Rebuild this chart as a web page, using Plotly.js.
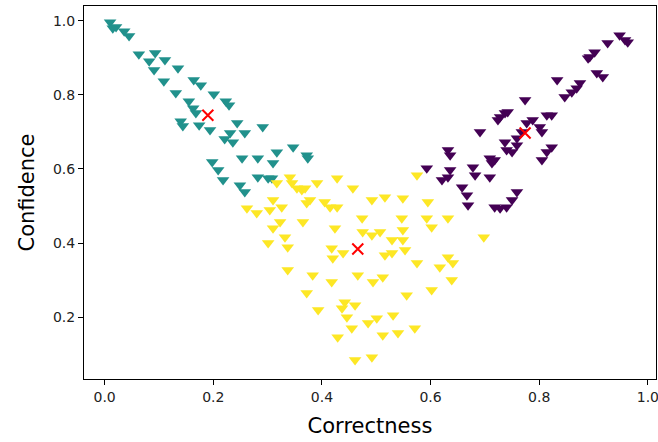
<!DOCTYPE html>
<html>
<head>
<meta charset="utf-8">
<script src="https://cdn.plot.ly/plotly-3.0.1.min.js"></script>
<style>html,body{margin:0;padding:0;background:#fff;}#chart{width:658px;height:442px;}</style>
</head>
<body>
<div id="chart"></div>
<script>
// Cluster 1 (teal)
const tealX = [0.010,0.015,0.021,0.036,0.045,0.063,0.093,0.082,0.111,0.091,0.135,0.109,0.164,0.177,0.131,0.201,0.155,0.223,0.229,0.163,0.168,0.140,0.144,0.174,0.194,0.244,0.291,0.231,0.258,0.221,0.236,0.347,0.317,0.372,0.374,0.253,0.282,0.310,0.198,0.209,0.218,0.249,0.258,0.282,0.301,0.308];
const tealY = [0.996,0.980,0.983,0.972,0.959,0.910,0.913,0.891,0.894,0.867,0.872,0.837,0.840,0.826,0.805,0.802,0.783,0.783,0.772,0.764,0.751,0.729,0.716,0.718,0.705,0.724,0.713,0.697,0.697,0.681,0.672,0.659,0.645,0.637,0.629,0.629,0.629,0.616,0.619,0.597,0.570,0.556,0.538,0.578,0.575,0.575];
// Cluster 2 (yellow)
const yellowX = [0.341,0.345,0.354,0.363,0.369,0.391,0.428,0.457,0.317,0.575,0.310,0.304,0.326,0.262,0.280,0.378,0.372,0.405,0.415,0.428,0.492,0.516,0.549,0.595,0.474,0.424,0.323,0.310,0.365,0.475,0.492,0.507,0.529,0.547,0.549,0.549,0.553,0.593,0.602,0.632,0.301,0.332,0.337,0.418,0.439,0.420,0.516,0.529,0.575,0.617,0.337,0.632,0.641,0.639,0.383,0.418,0.466,0.494,0.512,0.372,0.393,0.442,0.437,0.461,0.446,0.455,0.485,0.501,0.531,0.556,0.602,0.429,0.512,0.540,0.571,0.461,0.492,0.698];
const yellowY = [0.578,0.562,0.548,0.543,0.548,0.562,0.575,0.548,0.562,0.583,0.516,0.489,0.497,0.494,0.481,0.516,0.508,0.511,0.497,0.497,0.516,0.524,0.521,0.511,0.467,0.440,0.457,0.440,0.457,0.430,0.421,0.430,0.408,0.467,0.435,0.408,0.381,0.467,0.443,0.467,0.400,0.416,0.389,0.386,0.373,0.359,0.367,0.373,0.346,0.335,0.327,0.362,0.346,0.300,0.313,0.295,0.313,0.295,0.308,0.265,0.219,0.240,0.224,0.232,0.200,0.170,0.184,0.197,0.205,0.259,0.273,0.146,0.151,0.157,0.170,0.084,0.092,0.416];
// Cluster 3 (purple)
const purpleX = [0.774,0.728,0.737,0.742,0.724,0.691,0.788,0.814,0.823,0.801,0.805,0.777,0.768,0.759,0.737,0.740,0.750,0.759,0.823,0.814,0.805,0.632,0.636,0.709,0.718,0.713,0.593,0.636,0.632,0.621,0.678,0.682,0.709,0.658,0.667,0.669,0.759,0.750,0.740,0.728,0.718,0.833,0.948,0.963,0.958,0.926,0.902,0.893,0.890,0.906,0.917,0.875,0.869,0.860,0.847];
const purpleY = [0.786,0.740,0.751,0.754,0.732,0.700,0.732,0.745,0.745,0.713,0.700,0.724,0.700,0.683,0.672,0.651,0.646,0.664,0.659,0.646,0.624,0.651,0.637,0.629,0.624,0.616,0.602,0.597,0.578,0.570,0.605,0.583,0.578,0.551,0.529,0.502,0.538,0.516,0.497,0.494,0.497,0.840,0.961,0.942,0.948,0.940,0.915,0.902,0.899,0.859,0.848,0.832,0.818,0.807,0.794];
// Cluster centres
const centerX = [0.190, 0.466, 0.774];
const centerY = [0.745, 0.384, 0.697];
const xTicks = [0.0, 0.2, 0.4, 0.6, 0.8, 1.0];
const yTicks = [0.2, 0.4, 0.6, 0.8, 1.0];

const mk = (c) => ({symbol: 'triangle-down', size: 11, color: c, line: {width: 0}});
const traces = [
  {x: tealX, y: tealY, type: 'scatter', mode: 'markers', marker: mk('#21918c'), hoverinfo: 'x+y'},
  {x: yellowX, y: yellowY, type: 'scatter', mode: 'markers', marker: mk('#fde725'), hoverinfo: 'x+y'},
  {x: purpleX, y: purpleY, type: 'scatter', mode: 'markers', marker: mk('#440154'), hoverinfo: 'x+y'},
  {x: centerX, y: centerY, type: 'scatter', mode: 'markers',
   marker: {symbol: 'x-thin-open', size: 11, color: 'red', line: {width: 2, color: 'red'}}}
];
const font = {family: 'DejaVu Sans', color: '#000'};
const axBase = {
  showgrid: false, zeroline: false, showline: true, mirror: true,
  linecolor: '#000', linewidth: 1, ticks: 'outside', ticklen: 5, tickwidth: 1,
  tickcolor: '#000', tickfont: {family: 'DejaVu Sans', size: 14, color: '#222'},
  tickformat: '.1f', tickmode: 'array', ticklabeloverflow: 'allow'
};
const layout = {
  width: 658, height: 442,
  margin: {l: 84, r: 2, t: 6, b: 63},
  paper_bgcolor: '#fff', plot_bgcolor: '#fff',
  showlegend: false, font: font,
  xaxis: Object.assign({}, axBase, {
    range: [-0.038, 1.015], tickvals: xTicks,
    title: {text: 'Correctness', font: {family: 'DejaVu Sans', size: 21, color: '#000'}, standoff: 14}
  }),
  yaxis: Object.assign({}, axBase, {
    range: [0.033, 1.040], tickvals: yTicks,
    title: {text: 'Confidence', font: {family: 'DejaVu Sans', size: 21, color: '#000'}, standoff: 12}
  })
};
Plotly.newPlot('chart', traces, layout, {displayModeBar: false, staticPlot: true});
</script>
</body>
</html>
